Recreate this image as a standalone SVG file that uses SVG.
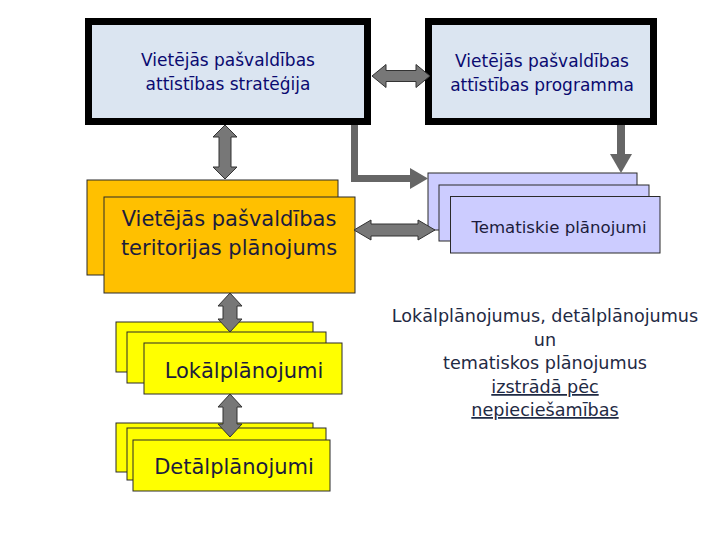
<svg xmlns="http://www.w3.org/2000/svg" width="720" height="540" viewBox="0 0 720 540">
<style>
.top{fill:#dbe5f1;stroke:#000;stroke-width:7}
.or{fill:#ffc000;stroke:#2a2a2a;stroke-width:1}
.th{fill:#ccccff;stroke:#2a2a2a;stroke-width:1}
.ye{fill:#ffff00;stroke:#2a2a2a;stroke-width:1}
.dbl{fill:#777;stroke:#333;stroke-width:1}
.sol{fill:#666;stroke:none}
text{font-family:"DejaVu Sans","Liberation Sans",sans-serif;text-anchor:middle}
.t1{font-size:17px;fill:#0a0a70}
.t2{font-size:21px;fill:#1c1c3c}
.t3{font-size:16.6px;fill:#1c1c3c}
.t4{font-size:17.6px;fill:#1f2a44}
</style>
<rect width="720" height="540" fill="#fff"/>
<g id="node-strategija">
<rect class="top" x="88.5" y="21.5" width="279" height="100"/>
<text class="t1" x="228" y="66">Vietējās pašvaldības</text>
<text class="t1" x="228" y="90">attīstības stratēģija</text>
</g>
<g id="node-programma">
<rect class="top" x="428.5" y="21.5" width="225" height="100"/>
<text class="t1" x="542" y="67">Vietējās pašvaldības</text>
<text class="t1" x="542" y="91">attīstības programma</text>
</g>
<g id="node-teritorijas">
<rect class="or" x="87" y="180" width="251" height="95"/>
<rect class="or" x="104" y="197" width="251" height="96"/>
<text class="t2" x="229" y="226">Vietējās pašvaldības</text>
<text class="t2" x="229" y="255">teritorijas plānojums</text>
</g>
<g id="node-tematiskie">
<rect class="th" x="428" y="173" width="209" height="57"/>
<rect class="th" x="439" y="185" width="210" height="56"/>
<rect class="th" x="450.5" y="196.5" width="209.5" height="56.5"/>
<text class="t3" x="559" y="233">Tematiskie plānojumi</text>
</g>
<g id="node-lokal">
<rect class="ye" x="116" y="322" width="197" height="50"/>
<rect class="ye" x="127" y="332" width="199" height="51"/>
<rect class="ye" x="144" y="343" width="198" height="51"/>
<text class="t2" x="244" y="378">Lokālplānojumi</text>
</g>
<g id="node-detal">
<rect class="ye" x="116" y="423" width="197" height="49"/>
<rect class="ye" x="127" y="428" width="199" height="52"/>
<rect class="ye" x="133" y="440" width="197" height="51"/>
<text class="t2" x="234" y="474">Detālplānojumi</text>
</g>
<g id="note">
<text class="t4" x="545" y="322">Lokālplānojumus, detālplānojumus</text>
<text class="t4" x="545" y="346">un</text>
<text class="t4" x="545" y="369">tematiskos plānojumus</text>
<text class="t4" x="545" y="393" text-decoration="underline">izstrādā pēc</text>
<text class="t4" x="545" y="416" text-decoration="underline">nepieciešamības</text>
</g>
<g id="connectors">
<polygon class="dbl" points="372,76 386,64.5 386,70.5 416,70.5 416,64.5 430,76 416,87.5 416,81.5 386,81.5 386,87.5"/>
<polygon class="dbl" points="225,125 237,137 231,137 231,167 237,167 225,179 213,167 219,167 219,137 213,137"/>
<polygon class="dbl" points="354,230 371,220 371,224 418,224 418,220 435,230 418,240 418,236 371,236 371,240"/>
<polygon class="dbl" points="230,293 242,306 237,306 237,319 242,319 230,332 218,319 223,319 223,306 218,306"/>
<polygon class="dbl" points="230,394 242,407 237,407 237,424 242,424 230,437 218,424 223,424 223,407 218,407"/>
<polyline points="354.5,125 354.5,178.5 411,178.5" fill="none" stroke="#666" stroke-width="7"/>
<polygon class="sol" points="410,168 428,178.5 410,189"/>
<rect class="sol" x="617" y="125" width="8" height="31"/>
<polygon class="sol" points="610,154 632,154 621,173"/>
</g>
</svg>
